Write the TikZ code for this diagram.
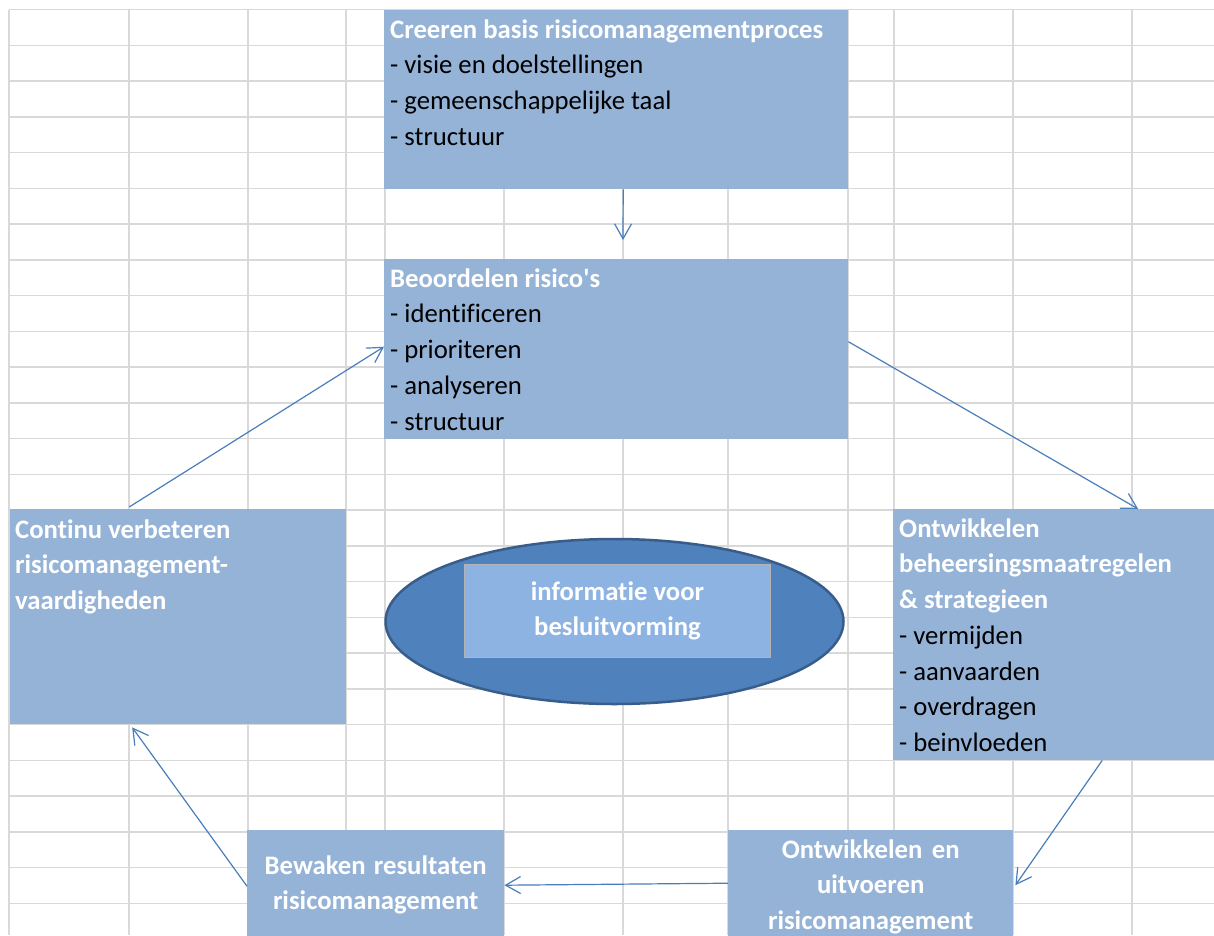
\documentclass[tikz,border=0pt]{standalone}
\usepackage{fontspec}
\setmainfont{Carlito}[Ligatures=CommonOff]
\usetikzlibrary{shapes.geometric,arrows.meta}
\definecolor{vakblauw}{HTML}{95B3D7}
\definecolor{ovaalblauw}{HTML}{4F81BD}
\definecolor{ovaalrand}{HTML}{385D8A}
\definecolor{infoblauw}{HTML}{8DB3E2}
\definecolor{inforand}{HTML}{B4B4B4}
\definecolor{pijlblauw}{HTML}{4A7EBB}
\definecolor{rastergrijs}{HTML}{D9D9D9}
\newcommand{\letter}{\fontsize{26.7}{35.75}\selectfont}
\newcommand{\kop}[1]{\textcolor{white}{\bfseries #1}}
\newcommand{\wit}{\spaceskip=0pt\xspaceskip=0pt}

\begin{document}
\begin{tikzpicture}[x=1pt,y=1pt,font=\letter,
    vak/.style={fill=vakblauw,draw=none,inner sep=0pt,anchor=north west},
    tekst/.style={inner sep=0pt,anchor=base west,align=left,text width=600pt},
    midtekst/.style={inner sep=0pt,anchor=base,align=center,text width=300pt},
    pijl/.style={draw=pijlblauw,line width=1.2pt,-{Straight Barb[length=15pt,width=17pt]}}]
	\useasboundingbox (0,0) rectangle (1214,-935);
	\clip (0,0) rectangle (1214,-935);
	\fill[white] (0,0) rectangle (1214,-935);
	\foreach \y in {0,...,25}\draw[line width=1.5pt,rastergrijs] (9,-9.5-35.75*\y)--(1214,-9.5-35.75*\y);
	\foreach \x in {9,129,248,346,385,504,623,728,848,894,1013,1132}\draw[line width=1.5pt,rastergrijs] (\x,-9.5)--(\x,-935);
	\node[vak,minimum width=464pt,minimum height=179pt] (basis) at (384,-10) {};
	\node[vak,minimum width=464pt,minimum height=180pt] (beoordelen) at (384,-259) {};
	\node[vak,minimum width=336pt,minimum height=215pt] (verbeteren) at (10,-509) {};
	\node[vak,minimum width=321pt,minimum height=251pt] (strategie) at (893,-509) {};
	\node[vak,minimum width=257pt,minimum height=115pt] (bewaken) at (247,-830) {};
	\node[vak,minimum width=285pt,minimum height=115pt] (uitvoeren) at (728,-830) {};
	\node[ellipse,fill=ovaalblauw,draw=ovaalrand,line width=2.5pt,minimum width=458pt,minimum height=165pt,inner sep=0pt] (ovaal) at (614.5,-621.5) {};
	\node[fill=infoblauw,draw=inforand,line width=1pt,minimum width=306pt,minimum height=93pt,inner sep=0pt,align=center,font=\letter\bfseries,text=white] (info) at (617.5,-611) {informatie voor\\besluitvorming};
	\coordinate (pijlpunt) at (623,-240);
	\draw[pijl] ([xshift=7pt]basis.south)--(pijlpunt);
	\draw[pijl] ([yshift=7.5pt]beoordelen.east)--([xshift=84.5pt]strategie.north);
	\draw[pijl] ([xshift=48.5pt]strategie.south)--([shift={(2,2.5)}]uitvoeren.east);
	\draw[pijl] ([yshift=4.5pt]uitvoeren.west)--([yshift=2.5pt]bewaken.east);
	\draw[pijl] ([yshift=1.5pt]bewaken.west)--([shift={(-46,-3)}]verbeteren.south);
	\draw[pijl] ([shift={(-49,2)}]verbeteren.north)--([yshift=2.5pt]beoordelen.west);
	\node[tekst] (basistekst) at ([shift={(6,-28)}]basis.north west) {\wit\kop{Creeren basis risicomanagementproces}\\- visie en doelstellingen\\- gemeenschappelijke taal\\- structuur};
	\node[tekst] (beoordelentekst) at ([shift={(6,-28)}]beoordelen.north west) {\wit\kop{Beoordelen risico\textquotesingle s}\\- identificeren\\- prioriteren\\- analyseren\\- structuur};
	\node[tekst] (verbeterentekst) at ([shift={(5,-29)}]verbeteren.north west) {\wit\kop{Continu verbeteren}\\\kop{risicomanagement-}\\\kop{vaardigheden}};
	\node[tekst] (strategietekst) at ([shift={(6,-28)}]strategie.north west) {\wit\kop{Ontwikkelen}\\\kop{beheersingsmaatregelen}\\\kop{\& strategieen}\\- vermijden\\- aanvaarden\\- overdragen\\- beinvloeden};
	\node[midtekst] (bewakentekst) at ([yshift=-44pt]bewaken.north) {\wit\kop{Bewaken resultaten}\\\kop{risicomanagement}};
	\node[midtekst] (uitvoerentekst) at ([yshift=-28pt]uitvoeren.north) {\wit\kop{Ontwikkelen en}\\\kop{uitvoeren}\\\kop{risicomanagement}};
\end{tikzpicture}
\end{document}
